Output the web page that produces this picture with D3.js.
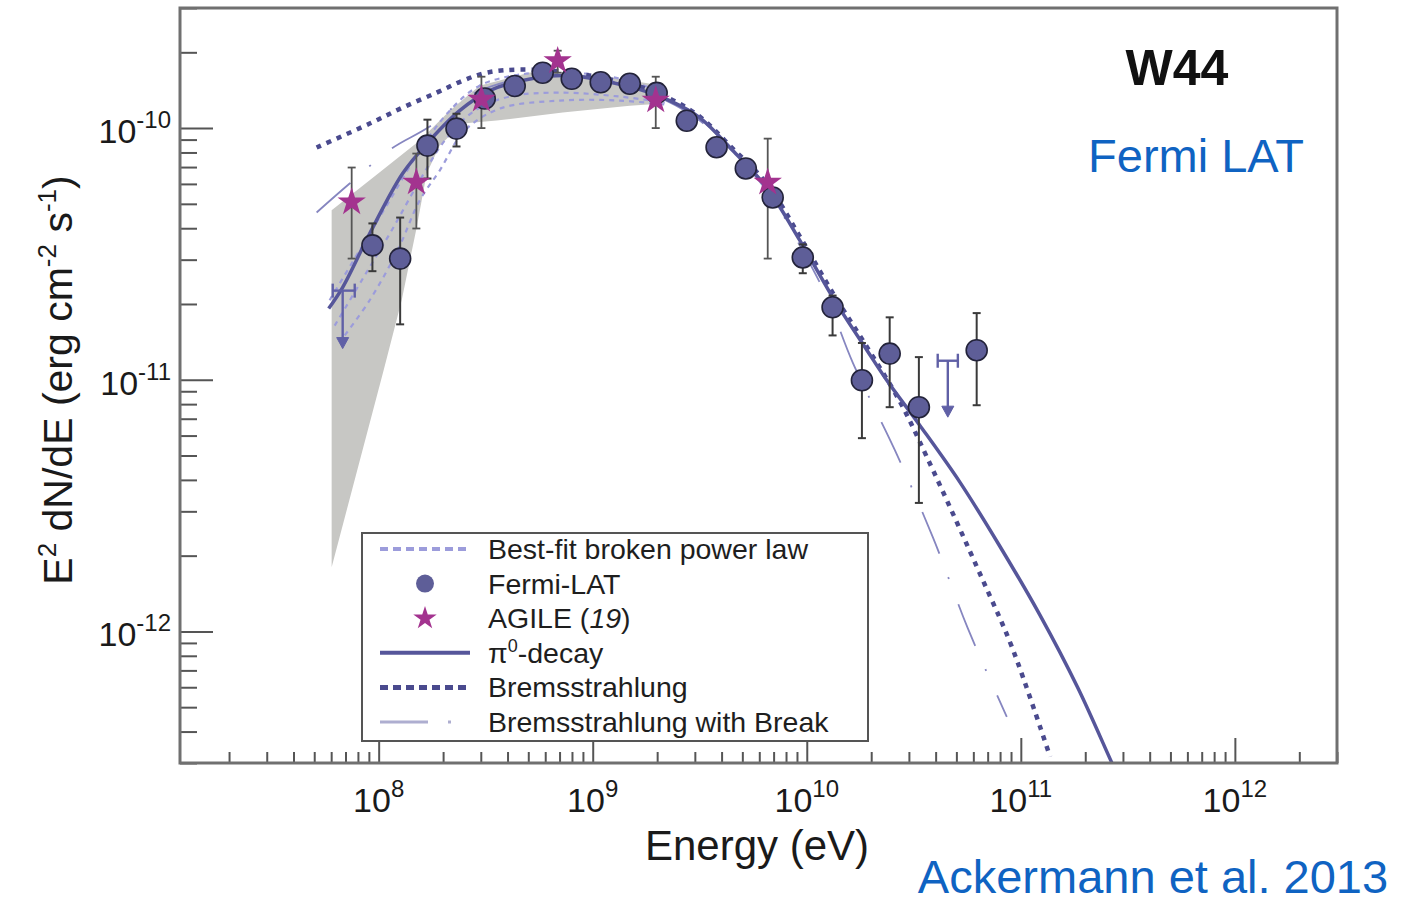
<!DOCTYPE html>
<html>
<head>
<meta charset="utf-8">
<script src="https://cdnjs.cloudflare.com/ajax/libs/d3/7.8.5/d3.min.js"></script>
<style>
    body { margin: 0; background: #fff; }
    svg { font-family: "Liberation Sans", Arial, Helvetica, sans-serif; }
</style>
</head>
<body>
<div id="chart"></div>
<script>
// Fermi-LAT flux points (E in eV, E^2 dN/dE in erg cm^-2 s^-1)
const fermiEnergy = [9.35e7, 1.26e8, 1.69e8, 2.31e8, 3.13e8, 4.32e8, 5.84e8, 7.98e8, 1.09e9, 1.49e9, 1.99e9,
    2.75e9, 3.79e9, 5.19e9, 6.93e9, 9.58e9, 1.32e10, 1.81e10, 2.44e10, 3.34e10, 6.22e10];
const fermiFlux = [3.42e-11, 3.03e-11, 8.52e-11, 9.95e-11, 1.31e-10, 1.47e-10, 1.66e-10, 1.57e-10, 1.52e-10, 1.50e-10, 1.38e-10,
    1.07e-10, 8.39e-11, 6.91e-11, 5.30e-11, 3.06e-11, 1.94e-11, 9.95e-12, 1.27e-11, 7.78e-12, 1.31e-11];
const fermiLow = [2.70e-11, 1.66e-11, 6.30e-11, 8.45e-11, 1.22e-10, 1.40e-10, 1.59e-10, 1.51e-10, 1.46e-10, 1.44e-10, 1.32e-10,
    1.02e-10, 7.90e-11, 6.50e-11, 4.95e-11, 2.65e-11, 1.50e-11, 5.86e-12, 7.78e-12, 3.24e-12, 7.92e-12];
const fermiHigh = [4.18e-11, 4.41e-11, 1.08e-10, 1.14e-10, 1.40e-10, 1.55e-10, 1.73e-10, 1.63e-10, 1.58e-10, 1.56e-10, 1.44e-10,
    1.12e-10, 8.90e-11, 7.35e-11, 5.65e-11, 3.45e-11, 2.16e-11, 1.40e-11, 1.77e-11, 1.23e-11, 1.84e-11];

// Fermi-LAT upper limits
const ulEnergy = [6.79e7, 4.56e10];
const ulEnergyLow = [6.10e7, 4.09e10];
const ulEnergyHigh = [7.73e7, 5.08e10];
const ulFlux = [2.26e-11, 1.19e-11];
const ulArrowFlux = [1.33e-11, 7.10e-12];

// AGILE points
const agileEnergy = [7.48e7, 1.50e8, 3.02e8, 6.86e8, 1.97e9, 6.57e9];
const agileFlux = [5.08e-11, 6.09e-11, 1.30e-10, 1.85e-10, 1.29e-10, 6.08e-11];
const agileLow = [3.03e-11, 3.99e-11, 1.00e-10, 1.66e-10, 1.00e-10, 3.03e-11];
const agileHigh = [6.97e-11, 7.92e-11, 1.60e-10, 2.03e-10, 1.60e-10, 9.08e-11];

// model curves, [energy, flux]
const pionCurve = [[5.84e7, 1.92e-11], [6.79e7, 2.33e-11], [9.08e7, 3.81e-11], [1.294e8, 6.60e-11], [1.731e8, 8.92e-11],
    [2.39e8, 1.173e-10], [3.30e8, 1.409e-10], [5.47e8, 1.586e-10], [7.81e8, 1.616e-10], [1.113e9, 1.543e-10],
    [1.606e9, 1.435e-10], [2.29e9, 1.286e-10], [3.16e9, 1.101e-10], [4.51e9, 8.14e-11], [6.50e9, 5.80e-11],
    [9.28e9, 3.58e-11], [1.32e10, 2.13e-11], [1.91e10, 1.31e-11], [2.365e10, 9.95e-12], [3.37e10, 6.60e-12],
    [5.19e10, 3.92e-12], [7.98e10, 2.18e-12], [1.227e11, 1.163e-12], [1.846e11, 5.97e-13], [2.66e11, 3.01e-13],
    [2.90e11, 2.57e-13]];
const bremsCurve = [[5.13e7, 8.37e-11], [9.08e7, 1.042e-10], [1.294e8, 1.206e-10], [1.866e8, 1.383e-10], [2.47e8, 1.543e-10],
    [3.20e8, 1.661e-10], [4.56e8, 1.707e-10], [7.81e8, 1.661e-10], [1.606e9, 1.474e-10], [2.29e9, 1.310e-10],
    [3.16e9, 1.111e-10], [4.51e9, 8.29e-11], [6.50e9, 6.02e-11], [9.28e9, 3.71e-11], [1.32e10, 2.22e-11],
    [1.91e10, 1.35e-11], [2.72e10, 8.20e-12], [3.64e10, 4.93e-12], [6.64e10, 1.60e-12], [9.08e10, 8.68e-13],
    [1.37e11, 3.18e-13]];
const bremsBreakCurve = [[5.13e7, 4.62e-11], [7.32e7, 6.02e-11], [1.15e8, 8.29e-11], [1.731e8, 1.014e-10], [2.66e8, 1.346e-10],
    [4.56e8, 1.572e-10], [7.81e8, 1.631e-10], [1.606e9, 1.435e-10], [3.16e9, 1.071e-10], [6.50e9, 5.65e-11],
    [9.28e9, 3.42e-11], [1.24e10, 2.13e-11], [1.64e10, 1.17e-11], [2.58e10, 5.25e-12], [3.88e10, 2.37e-12],
    [5.65e10, 1.03e-12], [8.60e10, 4.58e-13]];

// best-fit broken power law lines and band
const bplUpper = [[5.90e7, 2.07e-11], [8.15e7, 3.27e-11], [1.126e8, 5.16e-11], [1.555e8, 8.14e-11], [2.147e8, 1.173e-10],
    [2.96e8, 1.474e-10], [4.56e8, 1.631e-10], [7.81e8, 1.661e-10], [1.337e9, 1.572e-10], [2.17e9, 1.383e-10]];
const bplMid = [[6.23e7, 1.64e-11], [8.33e7, 2.48e-11], [1.15e8, 3.92e-11], [1.555e8, 6.19e-11], [2.035e8, 8.92e-11],
    [2.81e8, 1.173e-10], [4.09e8, 1.334e-10], [7.01e8, 1.383e-10], [1.337e9, 1.334e-10], [2.17e9, 1.262e-10]];
const bplLower = [[6.94e7, 1.50e-11], [9.08e7, 2.07e-11], [1.227e8, 3.27e-11], [1.555e8, 5.16e-11], [1.928e8, 6.78e-11],
    [2.52e8, 9.77e-11], [3.68e8, 1.195e-10], [7.01e8, 1.286e-10], [1.337e9, 1.286e-10], [2.17e9, 1.240e-10]];
const bandUpper = [[6.03e7, 4.71e-11], [9.68e7, 6.48e-11], [1.555e8, 8.92e-11], [2.147e8, 1.173e-10], [2.96e8, 1.474e-10],
    [5.08e8, 1.661e-10], [1.078e9, 1.616e-10], [2.124e9, 1.474e-10]];
const bandLower = [[2.124e9, 1.251e-10], [1.489e9, 1.228e-10], [7.24e8, 1.152e-10], [3.56e8, 1.071e-10], [2.47e8, 1.042e-10],
    [1.928e8, 8.52e-11], [1.676e8, 6.60e-11], [1.505e8, 4.03e-11], [1.281e8, 2.07e-11], [1.055e8, 1.09e-11],
    [6.03e7, 1.80e-12]];

const xTickExps = [8, 9, 10, 11, 12];
const yTickExps = [-10, -11, -12];

const COLORS = {
    pion: "#56569a",
    brems: "#4a4a8e",
    bremsBreak: "#8686c0",
    bpl: "#9c9cdb",
    band: "#c7c7c4",
    fermi: "#5e5e98",
    agile: "#a3338f",
    err: "#3a3a3a",
    ul: "#6060a6",
    blue: "#0f63c2"
};

class SpectrumChart {
    constructor(_parentElement) {
        this.parentElement = _parentElement;
        this.initVis();
    }

    initVis() {
        const vis = this;

        vis.MARGIN = { LEFT: 180, RIGHT: 74, TOP: 8, BOTTOM: 139 };
        vis.WIDTH = 1411 - vis.MARGIN.LEFT - vis.MARGIN.RIGHT;
        vis.HEIGHT = 902 - vis.MARGIN.TOP - vis.MARGIN.BOTTOM;

        vis.svg = d3.select(vis.parentElement).append("svg")
            .attr("width", 1411)
            .attr("height", 902);

        vis.g = vis.svg.append("g")
            .attr("transform", `translate(${vis.MARGIN.LEFT}, ${vis.MARGIN.TOP})`);

        // Scales
        vis.x = d3.scaleLog().domain([1.18e7, 3e12]).range([0, vis.WIDTH]);
        vis.y = d3.scaleLog().domain([3e-13, 3e-10]).range([vis.HEIGHT, 0]);

        vis.g.append("clipPath").attr("id", "plot-clip")
            .append("rect").attr("width", vis.WIDTH).attr("height", vis.HEIGHT);

        vis.plot = vis.g.append("g").attr("clip-path", "url(#plot-clip)");

        vis.line = d3.line()
            .x(d => vis.x(d[0]))
            .y(d => vis.y(d[1]))
            .curve(d3.curveCatmullRom.alpha(0.5));

        vis.drawModels();
        vis.drawPoints();
        vis.drawAxes();
        vis.drawLegend();
        vis.drawLabels();
    }

    drawModels() {
        const vis = this;

        // gray band
        const poly = d3.line().x(d => vis.x(d[0])).y(d => vis.y(d[1]));
        vis.plot.append("path")
            .attr("d", poly(bandUpper.concat(bandLower)) + "Z")
            .attr("fill", COLORS.band);

        [bplUpper, bplMid, bplLower].forEach(c => {
            vis.plot.append("path")
                .attr("d", vis.line(c))
                .attr("fill", "none")
                .attr("stroke", COLORS.bpl)
                .attr("stroke-width", 2.2)
                .attr("stroke-dasharray", "5,5");
        });

        vis.plot.append("path")
            .attr("d", vis.line(bremsBreakCurve))
            .attr("fill", "none")
            .attr("stroke", COLORS.bremsBreak)
            .attr("stroke-width", 1.8)
            .attr("stroke-dasharray", "45,25,2,27");

        vis.plot.append("path")
            .attr("d", vis.line(bremsCurve))
            .attr("fill", "none")
            .attr("stroke", COLORS.brems)
            .attr("stroke-width", 4.5)
            .attr("stroke-dasharray", "5,6");

        vis.plot.append("path")
            .attr("d", vis.line(pionCurve))
            .attr("fill", "none")
            .attr("stroke", COLORS.pion)
            .attr("stroke-width", 3.5);
    }

    errorBars(energy, low, high, color, width) {
        const vis = this;
        const eb = vis.plot.append("g")
            .attr("stroke", color)
            .attr("stroke-width", width);
        energy.forEach((e, i) => {
            const cx = vis.x(e);
            eb.append("line").attr("x1", cx).attr("x2", cx)
                .attr("y1", vis.y(low[i])).attr("y2", vis.y(high[i]));
            [low[i], high[i]].forEach(v => {
                eb.append("line").attr("x1", cx - 4).attr("x2", cx + 4)
                    .attr("y1", vis.y(v)).attr("y2", vis.y(v));
            });
        });
    }

    drawPoints() {
        const vis = this;

        vis.errorBars(agileEnergy, agileLow, agileHigh, "#555", 1.8);
        vis.errorBars(fermiEnergy, fermiLow, fermiHigh, COLORS.err, 2);

        // upper limits
        ulEnergy.forEach((e, i) => {
            const cx = vis.x(e);
            const cy = vis.y(ulFlux[i]);
            const ay = vis.y(ulArrowFlux[i]);
            const ul = vis.plot.append("g").attr("stroke", COLORS.ul).attr("stroke-width", 2.4).attr("fill", COLORS.ul);
            ul.append("line").attr("x1", vis.x(ulEnergyLow[i])).attr("x2", vis.x(ulEnergyHigh[i]))
                .attr("y1", cy).attr("y2", cy);
            [ulEnergyLow[i], ulEnergyHigh[i]].forEach(v => {
                ul.append("line").attr("x1", vis.x(v)).attr("x2", vis.x(v))
                    .attr("y1", cy - 7).attr("y2", cy + 7);
            });
            ul.append("line").attr("x1", cx).attr("x2", cx).attr("y1", cy).attr("y2", ay - 8);
            ul.append("path")
                .attr("d", `M${cx - 6},${ay - 11} L${cx + 6},${ay - 11} L${cx},${ay} Z`)
                .attr("stroke-width", 1);
        });

        vis.plot.selectAll(".fermi")
            .data(fermiEnergy)
            .join("circle")
            .attr("class", "fermi")
            .attr("cx", d => vis.x(d))
            .attr("cy", (d, i) => vis.y(fermiFlux[i]))
            .attr("r", 10.5)
            .attr("fill", COLORS.fermi)
            .attr("stroke", "#23233a")
            .attr("stroke-width", 1.6);

        const star = d3.symbol().type(d3.symbolStar).size(250);
        vis.plot.selectAll(".agile")
            .data(agileEnergy)
            .join("path")
            .attr("class", "agile")
            .attr("d", star)
            .attr("transform", (d, i) => `translate(${vis.x(d)}, ${vis.y(agileFlux[i])})`)
            .attr("fill", COLORS.agile);
    }

    drawAxes() {
        const vis = this;

        const isMajor = d => Math.abs(Math.log10(d) - Math.round(Math.log10(d))) < 1e-6;

        // X-axis (ticks point up into the plot)
        vis.xAxis = vis.g.append("g")
            .attr("class", "x axis")
            .attr("transform", `translate(0, ${vis.HEIGHT})`)
            .call(d3.axisTop(vis.x).tickValues(vis.x.ticks()).tickFormat("").tickSizeOuter(0));
        vis.xAxis.selectAll(".tick line")
            .attr("y2", d => isMajor(d) ? -25 : -11)
            .attr("stroke", "#555").attr("stroke-width", 2);
        vis.xAxis.select(".domain").remove();

        // Y-axis (ticks point right)
        vis.yAxis = vis.g.append("g")
            .attr("class", "y axis")
            .call(d3.axisRight(vis.y).tickValues(vis.y.ticks()).tickFormat("").tickSizeOuter(0));
        vis.yAxis.selectAll(".tick line")
            .attr("x2", d => isMajor(d) ? 33 : 17)
            .attr("stroke", "#555").attr("stroke-width", 2);
        vis.yAxis.select(".domain").remove();

        // frame
        vis.g.append("rect")
            .attr("width", vis.WIDTH).attr("height", vis.HEIGHT)
            .attr("fill", "none").attr("stroke", "#707070").attr("stroke-width", 3);

        // tick labels with superscripts
        xTickExps.forEach(e => {
            const t = vis.g.append("text")
                .attr("x", vis.x(Math.pow(10, e)))
                .attr("y", vis.HEIGHT + 49)
                .attr("text-anchor", "middle")
                .attr("font-size", 34).attr("fill", "#1a1a1a");
            t.append("tspan").text("10");
            t.append("tspan").attr("dy", -15).attr("font-size", 24).text(e);
        });

        yTickExps.forEach(e => {
            const t = vis.g.append("text")
                .attr("x", -9)
                .attr("y", vis.y(Math.pow(10, e)) + 15)
                .attr("text-anchor", "end")
                .attr("font-size", 34).attr("fill", "#1a1a1a");
            t.append("tspan").text("10");
            t.append("tspan").attr("dy", -15).attr("font-size", 24).text(e);
        });
    }

    drawLegend() {
        const vis = this;
        const lg = vis.svg.append("g");
        const left = 362, top = 533;
        const rowY = i => 549 + i * 34.6;

        lg.append("rect")
            .attr("x", left).attr("y", top).attr("width", 506).attr("height", 208)
            .attr("fill", "#fff").attr("stroke", "#555").attr("stroke-width", 2);

        const sample = (i, color, width, dash) => {
            lg.append("line").attr("x1", 380).attr("x2", 470).attr("y1", rowY(i)).attr("y2", rowY(i))
                .attr("stroke", color).attr("stroke-width", width).attr("stroke-dasharray", dash);
        };
        sample(0, COLORS.bpl, 4, "8,5");
        lg.append("circle").attr("cx", 425).attr("cy", rowY(1)).attr("r", 9).attr("fill", COLORS.fermi);
        lg.append("path").attr("d", d3.symbol().type(d3.symbolStar).size(170))
            .attr("transform", `translate(425, ${rowY(2)})`).attr("fill", COLORS.agile);
        sample(3, COLORS.pion, 4, null);
        sample(4, COLORS.brems, 5, "8,5");
        lg.append("line").attr("x1", 380).attr("x2", 428).attr("y1", rowY(5)).attr("y2", rowY(5))
            .attr("stroke", "#aeaed0").attr("stroke-width", 3);
        lg.append("line").attr("x1", 448).attr("x2", 451).attr("y1", rowY(5)).attr("y2", rowY(5))
            .attr("stroke", "#aeaed0").attr("stroke-width", 3);

        const text = i => lg.append("text").attr("x", 488).attr("y", rowY(i) + 10)
            .attr("font-size", 28.5).attr("fill", "#1e1e1e");

        text(0).text("Best-fit broken power law");
        text(1).text("Fermi-LAT");
        const agile = text(2);
        agile.append("tspan").text("AGILE (");
        agile.append("tspan").attr("font-style", "italic").text("19");
        agile.append("tspan").text(")");
        const pion = text(3);
        pion.append("tspan").text("π");
        pion.append("tspan").attr("dy", -11).attr("font-size", 18).text("0");
        pion.append("tspan").attr("dy", 11).text("-decay");
        text(4).text("Bremsstrahlung");
        text(5).text("Bremsstrahlung with Break");
    }

    drawLabels() {
        const vis = this;

        vis.svg.append("text")
            .attr("x", 757).attr("y", 860)
            .attr("text-anchor", "middle")
            .attr("font-size", 42).attr("fill", "#1a1a1a")
            .text("Energy (eV)");

        const yt = vis.svg.append("text")
            .attr("transform", "translate(72, 380) rotate(-90)")
            .attr("text-anchor", "middle")
            .attr("font-size", 41).attr("fill", "#1a1a1a");
        yt.append("tspan").text("E");
        yt.append("tspan").attr("dy", -16).attr("font-size", 26).text("2");
        yt.append("tspan").attr("dy", 16).text(" dN/dE (erg cm");
        yt.append("tspan").attr("dy", -16).attr("font-size", 26).text("-2");
        yt.append("tspan").attr("dy", 16).text(" s");
        yt.append("tspan").attr("dy", -16).attr("font-size", 26).text("-1");
        yt.append("tspan").attr("dy", 16).text(")");

        vis.svg.append("text")
            .attr("x", 1177).attr("y", 85)
            .attr("text-anchor", "middle")
            .attr("font-size", 50).attr("font-weight", "bold").attr("fill", "#111")
            .text("W44");

        vis.svg.append("text")
            .attr("x", 1196).attr("y", 172)
            .attr("text-anchor", "middle")
            .attr("font-size", 47).attr("fill", COLORS.blue)
            .text("Fermi LAT");

        vis.svg.append("text")
            .attr("x", 1153).attr("y", 893)
            .attr("text-anchor", "middle")
            .attr("font-size", 47).attr("fill", COLORS.blue)
            .text("Ackermann et al. 2013");
    }
}

new SpectrumChart("#chart");
</script>
</body>
</html>
